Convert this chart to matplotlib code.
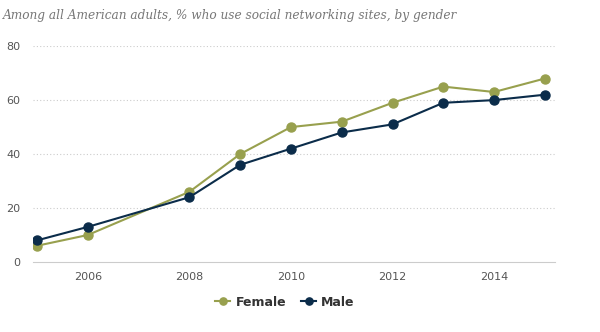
import matplotlib.pyplot as plt

years = [2005, 2006, 2008, 2009, 2010, 2011, 2012, 2013, 2014, 2015]
female = [6, 10, 26, 40, 50, 52, 59, 65, 63, 68]
male = [8, 13, 24, 36, 42, 48, 51, 59, 60, 62]
xticks = [2006, 2008, 2010, 2012, 2014]
yticks = [0, 20, 40, 60, 80]

female_color = "#98a04e"
male_color = "#0b2c4a"

fig = plt.figure(figsize=(6, 3.32), dpi=100)
ax = fig.add_axes([0.055, 0.211, 0.87, 0.65])

ax.plot(years, female, color=female_color, lw=1.5, marker="o", ms=6.5, label="Female", zorder=3)
ax.plot(years, male, color=male_color, lw=1.5, marker="o", ms=6.5, label="Male", zorder=3)

ax.set_xlim(2004.92, 2015.2)
ax.set_ylim(0, 80)
ax.set_xticks(xticks)
ax.set_yticks(yticks)
ax.tick_params(length=0, labelsize=8, colors="#555555")
ax.tick_params(axis="y", pad=9)
ax.tick_params(axis="x", pad=7)

for y in yticks[1:]:
    ax.axhline(y, color="#cccccc", lw=0.8, ls=(0, (1, 2)), zorder=1)
for s in ["top", "right", "left"]:
    ax.spines[s].set_visible(False)
ax.spines["bottom"].set_color("#cccccc")

fig.text(0.005, 0.953, "Among all American adults, % who use social networking sites, by gender",
         family="DejaVu Serif", style="italic", fontsize=8.7, color="#777777", va="center")

leg = fig.legend(loc="center", bbox_to_anchor=(0.475, 0.09), ncol=2, frameon=False,
                 prop={"family": ["Liberation Sans Narrow", "DejaVu Sans"], "weight": "bold", "size": 9},
                 handlelength=1.2, columnspacing=1.2, handletextpad=0.4, markerscale=0.8)
for t in leg.get_texts():
    t.set_color("#333333")

fig.savefig("out.png", dpi=100)
